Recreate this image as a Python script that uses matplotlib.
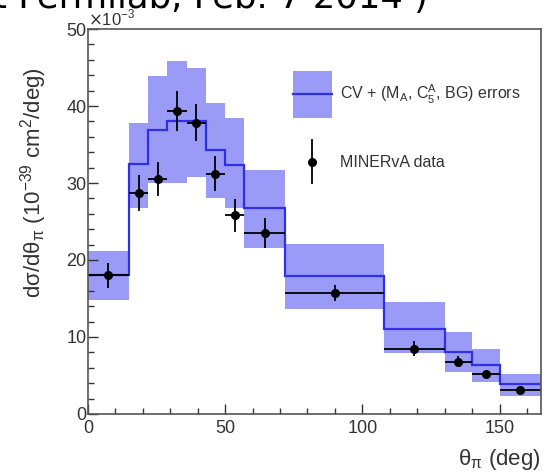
#MINERvA charged pion production: d(sigma)/d(theta_pi)
#data compared with CV prediction and error band.

import matplotlib.pyplot as plt
from matplotlib.patches import Rectangle
from matplotlib.ticker import MultipleLocator
import numpy as np

plt.rcParams['font.family'] = ['Liberation Sans', 'DejaVu Sans']

#Bin edges in degrees
edges = [0, 15, 22, 29, 36, 43, 50, 57, 72, 108, 130, 140, 150, 165]

#MINERvA data points and errors (x1e-3, 10^-39 cm^2/deg)
data = [18.0, 28.7, 30.5, 39.3, 37.8, 31.2, 25.8, 23.5, 15.7, 8.5, 6.8, 5.2, 3.1]
data_err = [1.6, 2.3, 2.2, 2.6, 2.4, 2.3, 2.1, 2.0, 1.0, 1.0, 0.7, 0.5, 0.4]

#Central value prediction and error band limits
cv = [18.0, 32.5, 36.9, 38.0, 38.0, 34.3, 32.4, 26.7, 17.9, 11.1, 8.0, 6.4, 3.9]
band_hi = [21.2, 37.8, 43.9, 45.8, 44.9, 40.4, 38.5, 31.7, 22.1, 14.6, 10.6, 8.5, 5.2]
band_lo = [14.8, 26.8, 30.0, 30.0, 30.8, 28.1, 26.8, 21.6, 13.7, 7.9, 5.4, 4.2, 2.4]

edges = np.array(edges)
centers = 0.5*(edges[1:] + edges[:-1])
half = 0.5*(edges[1:] - edges[:-1])
band_hi = np.array(band_hi)
band_lo = np.array(band_lo)

band_color = '#9a9af7'
line_color = '#2f2fe6'
txt_color = '#333333'

fig = plt.figure(figsize=(5.49, 4.74), dpi=100)
ax = fig.add_axes([0.160, 0.1266, 0.825, 0.8122])

#Error band and central value
ax.bar(edges[:-1], band_hi - band_lo, bottom=band_lo, width=np.diff(edges),
       align='edge', color=band_color, linewidth=0)
ax.stairs(cv, edges, color=line_color, lw=1.6, baseline=None)

#Data
ax.errorbar(centers, data, xerr=half, yerr=data_err, fmt='o', color='black',
            ms=5.5, elinewidth=1.3, capsize=0)

ax.set_xlim(0, 165)
ax.set_ylim(0, 50)
ax.xaxis.set_major_locator(MultipleLocator(50))
ax.xaxis.set_minor_locator(MultipleLocator(10))
ax.yaxis.set_major_locator(MultipleLocator(10))
ax.yaxis.set_minor_locator(MultipleLocator(2))
ax.tick_params(which='both', direction='in', top=False, right=False,
               labelsize=13, colors=txt_color)
ax.tick_params(which='major', length=7, width=1)
ax.tick_params(which='minor', length=4, width=1)
ax.tick_params(axis='x', pad=4)
ax.tick_params(axis='y', pad=1)
for s in ax.spines.values():
    s.set_color('#555555')
    s.set_linewidth(1.2)

ax.text(0.0, 1.01, r'$\times$10$^{\mathregular{-3}}$', transform=ax.transAxes,
        fontsize=12, color=txt_color, ha='left', va='baseline')

ax.set_ylabel('dσ/dθ$_{\\mathregular{π}}$ (10$^{\\mathregular{-39}}$ cm$^{\\mathregular{2}}$/deg)',
              fontsize=16, color=txt_color)
ax.yaxis.set_label_coords(-0.085, 0.6)
ax.set_xlabel('θ$_{\\mathregular{π}}$ (deg)', fontsize=16, color=txt_color)
ax.xaxis.set_label_coords(1.0, -0.085)
ax.xaxis.label.set_horizontalalignment('right')

#Hand-made legend, ROOT style
ax.add_patch(Rectangle((0.4525, 0.7688), 0.0861, 0.1229, transform=ax.transAxes,
                       color=band_color, lw=0))
ax.plot([0.4525, 0.5386], [0.8312, 0.8312], transform=ax.transAxes,
        color=line_color, lw=1.6)
ax.text(0.556, 0.8312, r'CV + (M$_{\mathregular{A}}$, C$_{\mathregular{5}}^{\mathregular{A}}$, BG) errors',
        transform=ax.transAxes, fontsize=11.5, color=txt_color, va='center')
ax.plot([0.4945, 0.4945], [0.60, 0.7117], transform=ax.transAxes,
        color='black', lw=1.3)
ax.plot([0.4945], [0.6545], 'o', transform=ax.transAxes, color='black', ms=5.5)
ax.text(0.556, 0.6545, 'MINERvA data', transform=ax.transAxes,
        fontsize=11.5, color=txt_color, va='center')

#Slide title, cut at the top of the picture
fig.text(-0.012, 0.984, 't Fermilab, Feb. 7 2014 )', fontsize=25.5,
         family='DejaVu Sans', va='baseline', ha='left')

fig.savefig('out.png', dpi=100)
